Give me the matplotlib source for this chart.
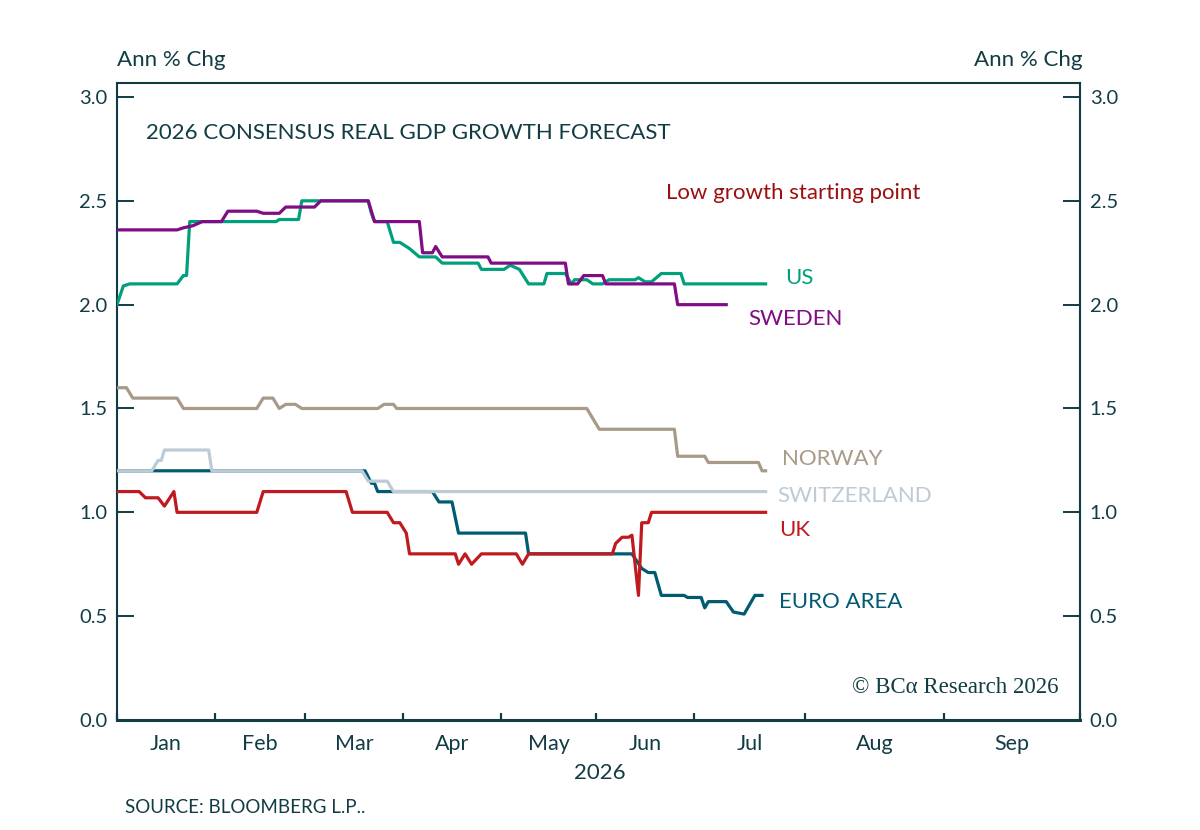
import numpy as np
import matplotlib
matplotlib.use("Agg")
import matplotlib.pyplot as plt
import matplotlib.dates as mdates
import matplotlib.transforms as mtrans

plt.rcParams['font.family'] = ['Lato', 'DejaVu Sans']

# ---------------- data ----------------
us_dates = ["2026-01-01", "2026-01-03", "2026-01-05", "2026-01-20", "2026-01-22", "2026-01-23",
            "2026-01-24", "2026-02-20", "2026-02-21", "2026-02-27", "2026-02-28", "2026-03-21",
            "2026-03-22", "2026-03-23", "2026-03-27", "2026-03-29", "2026-03-31", "2026-04-03",
            "2026-04-06", "2026-04-11", "2026-04-13", "2026-04-24", "2026-04-25", "2026-05-02",
            "2026-05-04", "2026-05-07", "2026-05-10", "2026-05-15", "2026-05-16", "2026-05-22",
            "2026-05-24", "2026-05-25", "2026-05-29", "2026-05-31", "2026-06-03", "2026-06-05",
            "2026-06-13", "2026-06-14", "2026-06-16", "2026-06-18", "2026-06-21", "2026-06-27",
            "2026-06-28", "2026-07-21"]
us_vals = [2.00, 2.09, 2.10, 2.10, 2.14, 2.14,
           2.40, 2.40, 2.41, 2.41, 2.50, 2.50,
           2.44, 2.40, 2.40, 2.30, 2.30, 2.27,
           2.23, 2.23, 2.20, 2.20, 2.17, 2.17,
           2.19, 2.17, 2.10, 2.10, 2.15, 2.15,
           2.10, 2.12, 2.12, 2.10, 2.10, 2.12,
           2.12, 2.13, 2.11, 2.11, 2.15, 2.15,
           2.10, 2.10]

sweden_dates = ["2026-01-01", "2026-01-20", "2026-01-22", "2026-01-25", "2026-01-28", "2026-02-03",
                "2026-02-05", "2026-02-14", "2026-02-16", "2026-02-21", "2026-02-23", "2026-03-04",
                "2026-03-06", "2026-03-21", "2026-03-23", "2026-04-06", "2026-04-07", "2026-04-10",
                "2026-04-11", "2026-04-13", "2026-04-27", "2026-04-28", "2026-05-22", "2026-05-23",
                "2026-05-26", "2026-05-28", "2026-06-03", "2026-06-04", "2026-06-25", "2026-06-26",
                "2026-07-10"]
sweden_vals = [2.36, 2.36, 2.37, 2.38, 2.40, 2.40,
               2.45, 2.45, 2.44, 2.44, 2.47, 2.47,
               2.50, 2.50, 2.40, 2.40, 2.25, 2.25,
               2.28, 2.23, 2.23, 2.20, 2.20, 2.10,
               2.10, 2.14, 2.14, 2.10, 2.10, 2.00,
               2.00]

norway_dates = ["2026-01-01", "2026-01-04", "2026-01-06", "2026-01-20", "2026-01-22", "2026-02-14",
                "2026-02-16", "2026-02-19", "2026-02-21", "2026-02-23", "2026-02-26", "2026-02-28",
                "2026-03-24", "2026-03-26", "2026-03-29", "2026-03-30", "2026-05-29", "2026-06-02",
                "2026-06-25", "2026-06-26", "2026-07-04", "2026-07-05", "2026-07-19", "2026-07-20",
                "2026-07-21"]
norway_vals = [1.60, 1.60, 1.55, 1.55, 1.50, 1.50,
               1.55, 1.55, 1.50, 1.52, 1.52, 1.50,
               1.50, 1.52, 1.52, 1.50, 1.50, 1.40,
               1.40, 1.27, 1.27, 1.24, 1.24, 1.20,
               1.20]

swiss_dates = ["2026-01-01", "2026-01-12", "2026-01-14", "2026-01-15", "2026-01-16", "2026-01-30",
               "2026-01-31", "2026-03-19", "2026-03-21", "2026-03-27", "2026-03-29", "2026-07-21"]
swiss_vals = [1.20, 1.20, 1.25, 1.25, 1.30, 1.30,
              1.20, 1.20, 1.15, 1.15, 1.10, 1.10]

euro_dates = ["2026-01-01", "2026-03-20", "2026-03-22", "2026-03-23", "2026-03-24", "2026-04-10",
              "2026-04-12", "2026-04-16", "2026-04-18", "2026-05-09", "2026-05-10", "2026-06-12",
              "2026-06-15", "2026-06-17", "2026-06-19", "2026-06-21", "2026-06-28", "2026-06-29",
              "2026-07-03", "2026-07-04", "2026-07-05", "2026-07-10", "2026-07-12", "2026-07-15",
              "2026-07-17", "2026-07-18", "2026-07-20"]
euro_vals = [1.20, 1.20, 1.14, 1.14, 1.10, 1.10,
             1.05, 1.05, 0.90, 0.90, 0.80, 0.80,
             0.73, 0.71, 0.71, 0.60, 0.60, 0.59,
             0.59, 0.54, 0.57, 0.57, 0.52, 0.51,
             0.57, 0.60, 0.60]

uk_dates = ["2026-01-01", "2026-01-08", "2026-01-10", "2026-01-14", "2026-01-16", "2026-01-19",
            "2026-01-20", "2026-02-14", "2026-02-16", "2026-03-14", "2026-03-16", "2026-03-27",
            "2026-03-29", "2026-03-31", "2026-04-02", "2026-04-03", "2026-04-17", "2026-04-18",
            "2026-04-20", "2026-04-22", "2026-04-25", "2026-05-06", "2026-05-08", "2026-05-10",
            "2026-06-06", "2026-06-07", "2026-06-09", "2026-06-11", "2026-06-12", "2026-06-14",
            "2026-06-15", "2026-06-17", "2026-06-18", "2026-07-21"]
uk_vals = [1.10, 1.10, 1.07, 1.07, 1.03, 1.10,
           1.00, 1.00, 1.10, 1.10, 1.00, 1.00,
           0.95, 0.95, 0.90, 0.80, 0.80, 0.75,
           0.80, 0.75, 0.80, 0.80, 0.75, 0.80,
           0.80, 0.85, 0.88, 0.88, 0.89, 0.60,
           0.95, 0.95, 1.00, 1.00]

month_starts = ["2026-01-01", "2026-02-01", "2026-03-01", "2026-04-01", "2026-05-01",
                "2026-06-01", "2026-07-01", "2026-08-01", "2026-09-01", "2026-10-01"]
month_labels = ["Jan", "Feb", "Mar", "Apr", "May", "Jun", "Jul", "Aug", "Sep"]
y_ticks = [0.0, 0.5, 1.0, 1.5, 2.0, 2.5, 3.0]

# --------------- style ---------------
TXT = "#123c44"
C_US = "#00a07d"
C_SE = "#800c86"
C_NO = "#a89a88"
C_CH = "#bccbd6"
C_EU = "#005a72"
C_UK = "#c01a1f"
C_NOTE = "#9b0f10"

# axis positions (in px of the original layout) for the month boundaries
tick_px = np.array([117, 215, 305, 403, 501, 596, 694, 805, 944, 1080], dtype=float)
bnd = mdates.date2num(np.array(month_starts, dtype="datetime64[D]"))


def fwd(x):
    return np.interp(x, bnd, tick_px)


def inv(y):
    return np.interp(y, tick_px, bnd)


def dn(lst):
    return mdates.date2num(np.array(lst, dtype="datetime64[D]"))


fig = plt.figure(figsize=(12, 8.3), dpi=100)
ax = fig.add_axes([117 / 1200, 110 / 830, 963 / 1200, 637 / 830])
ax.set_xscale("function", functions=(fwd, inv))

lw = 2.3
ax.plot(dn(us_dates), us_vals, color=C_US, lw=lw, solid_joinstyle="round", zorder=3)
ax.plot(dn(sweden_dates), sweden_vals, color=C_SE, lw=lw, solid_joinstyle="round", zorder=4)
ax.plot(dn(norway_dates), norway_vals, color=C_NO, lw=lw, solid_joinstyle="round", zorder=3)
ax.plot(dn(euro_dates), euro_vals, color=C_EU, lw=lw, solid_joinstyle="round", zorder=3)
ax.plot(dn(swiss_dates), swiss_vals, color=C_CH, lw=lw, solid_joinstyle="round", zorder=4)
ax.plot(dn(uk_dates), uk_vals, color=C_UK, lw=lw, solid_joinstyle="round", zorder=5)

ax.set_xlim(bnd[0], bnd[-1])
ax.set_ylim(0, 637 / 207.67)

# x ticks
ax.set_xticks(bnd)
ax.set_xticklabels([])
mids = inv((tick_px[:-1] + tick_px[1:]) / 2)
ax.set_xticks(mids, minor=True)
ax.set_xticklabels(month_labels, minor=True)
ax.tick_params(axis="x", which="major", direction="in", length=5, width=1.6, color=TXT)
ax.tick_params(axis="x", which="minor", length=0, pad=10, labelsize=15.5, labelcolor=TXT)

# y ticks both sides
ax.set_yticks(y_ticks)
ax.set_yticklabels([f"{v:.1f}" for v in y_ticks])
ax.tick_params(axis="y", which="major", direction="in", length=12, width=1.4, color=TXT,
               labelsize=14.5, labelcolor=TXT, left=True, right=True,
               labelleft=True, labelright=True, pad=7)

for s in ax.spines.values():
    s.set_color(TXT)
    s.set_linewidth(1.5)
ax.spines["bottom"].set_linewidth(2.2)

# labels near series
tr = mtrans.blended_transform_factory(ax.transAxes, ax.transData)
lab_kw = dict(transform=tr, fontsize=16, va="center", ha="left")
ax.text((785 - 117) / 963, 2.128, "US", color=C_US, **lab_kw)
ax.text((748 - 117) / 963, 1.93, "SWEDEN", color=C_SE, **lab_kw)
ax.text((782 - 117) / 963, 1.257, "NORWAY", color=C_NO, **lab_kw)
ax.text((777 - 117) / 963, 1.078, "SWITZERLAND", color=C_CH, **lab_kw)
ax.text((779 - 117) / 963, 0.915, "UK", color=C_UK, **lab_kw)
ax.text((779 - 117) / 963, 0.568, "EURO AREA", color=C_EU, **lab_kw)
ax.text((666 - 117) / 963, 2.537, "Low growth starting point", color=C_NOTE, **lab_kw)
ax.text((146 - 117) / 963, 2.826, "2026 CONSENSUS REAL GDP GROWTH FORECAST", color=TXT,
        **lab_kw)
ax.text((1058 - 117) / 963, (720 - 687) / 207.67, "© BCα Research 2026", color=TXT,
        transform=tr, fontsize=16.5, va="center", ha="right",
        family=["Liberation Serif", "DejaVu Serif"])

# figure texts
fig.text(117 / 1200, 1 - 60 / 830, "Ann % Chg", color=TXT, fontsize=16, va="center", ha="left")
fig.text(1083 / 1200, 1 - 60 / 830, "Ann % Chg", color=TXT, fontsize=16, va="center", ha="right")
fig.text(600 / 1200, 1 - 773 / 830, "2026", color=TXT, fontsize=16, va="center", ha="center")
fig.text(125 / 1200, 1 - 807 / 830, "SOURCE: BLOOMBERG L.P..", color=TXT, fontsize=13.5,
         va="center", ha="left")

fig.savefig("out.png", dpi=100)
